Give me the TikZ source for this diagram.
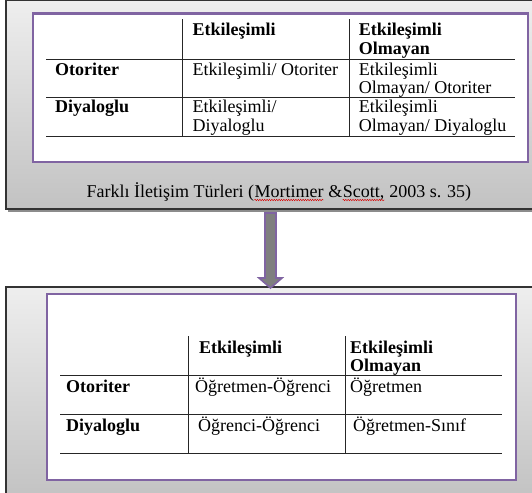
\documentclass[tikz,border=0pt]{standalone}
\usepackage{fontspec}
\setmainfont{Liberation Serif}
\usetikzlibrary{decorations.pathmorphing,calc}
\definecolor{purp}{HTML}{8064A2}
\definecolor{gtop}{HTML}{EEEEEE}
\definecolor{gbot}{HTML}{C2C2C2}
\definecolor{arrowgray}{HTML}{7F7F7F}
\begin{document}
\begin{tikzpicture}[x=1pt,y=-1pt,
  outerbox/.style={draw=black!80, line width=1.3pt, top color=gtop, bottom color=gbot},
  shadowbox/.style={fill=black!45, draw=none},
  innerbox/.style={draw=purp, line width=2.6pt, fill=white},
  tline/.style={draw=black!85, line width=0.9pt},
  cell/.style={anchor=base west, inner sep=0pt, font=\fontsize{18}{19}\selectfont},
  hcell/.style={anchor=base west, inner sep=0pt, font=\fontsize{18}{19}\selectfont\bfseries},
  capt/.style={anchor=base west, inner sep=0pt, font=\fontsize{18}{19}\selectfont},
  squig/.style={draw=red!85!black, line width=0.45pt, decorate,
    decoration={snake, amplitude=0.7pt, segment length=2.4pt}},
  bigarrow/.style={fill=arrowgray, draw=purp, line width=1.6pt, line join=miter}
]
\useasboundingbox (0,0) rectangle (532,492);
\fill[white] (0,0) rectangle (532,492);
\clip (0,0) rectangle (532,492);

% ---------- top panel ----------
\fill[shadowbox] (8,3) rectangle (548,211.5);
\path[outerbox] (6,0.8) rectangle (546,209) node[coordinate] (topbox) {};
\path[innerbox] (33,13.6) rectangle (528,162);

\draw[tline] (46,59.4) -- (515,59.4);
\draw[tline] (46,97.7) -- (515,97.7);
\draw[tline] (46,136.4) -- (515,136.4);
\draw[tline] (182,19.3) -- (182,136.4);
\draw[tline] (349,19.3) -- (349,136.4);

\node[hcell] (t12a) at (192.5,35.6) {Etkileşimli};
\node[hcell] (t13a) at (358.6,35.6) {Etkileşimli};
\node[hcell] (t13b) at (358.6,54.3) {Olmayan};
\node[hcell] (t21) at (55,75.3) {Otoriter};
\node[cell] (t22) at (192.5,75.3) {Etkileşimli/ Otoriter};
\node[cell] (t23a) at (358.6,75.3) {Etkileşimli};
\node[cell] (t23b) at (358.6,93.3) {Olmayan/ Otoriter};
\node[hcell] (t31) at (55,112.7) {Diyaloglu};
\node[cell] (t32a) at (192.5,112.7) {Etkileşimli/};
\node[cell] (t32b) at (192.5,131.2) {Diyaloglu};
\node[cell] (t33a) at (358.6,112.7) {Etkileşimli};
\node[cell] (t33b) at (358.6,131.2) {Olmayan/ Diyaloglu};

\node[capt] (c1) at (86.5,197) {Farklı İletişim Türleri (};
\node[capt] (c2) at (c1.base east) {Mortimer};
\node[capt] (c3) at (c2.base east) {\ \&};
\node[capt] (c4) at (c3.base east) {Scott,};
\node[capt] (c5) at (c4.base east) {\ 2003 s. 35)};
\draw[squig] ([yshift=-3pt]c2.base west) -- ([yshift=-3pt]c2.base east);
\draw[squig] ([yshift=-3pt]c4.base west) -- ([yshift=-3pt]c4.base east);

% ---------- bottom panel ----------
\fill[shadowbox] (8,289) rectangle (548,500);
\path[outerbox] (6,287) rectangle (546,500);
\path[innerbox] (47,294) rectangle (516,480);

\draw[tline] (60,375) -- (502,375);
\draw[tline] (60,414) -- (502,414);
\draw[tline] (60,453) -- (502,453);
\draw[tline] (188,336) -- (188,453);
\draw[tline] (345,336) -- (345,453);

\node[hcell] (b12a) at (199,353) {Etkileşimli};
\node[hcell] (b13a) at (350,353) {Etkileşimli};
\node[hcell] (b13b) at (350,371) {Olmayan};
\node[hcell] (b21) at (66,392.5) {Otoriter};
\node[cell] (b22) at (195,392.5) {Öğretmen-Öğrenci};
\node[cell] (b23) at (350,392.5) {Öğretmen};
\node[hcell] (b31) at (66,431.5) {Diyaloglu};
\node[cell] (b32) at (198,431.5) {Öğrenci-Öğrenci};
\node[cell] (b33) at (353,431.5) {Öğretmen-Sınıf};

% ---------- arrow ----------
\coordinate (as) at (270.5,213);
\coordinate (ae) at (270.5,288);
\draw[bigarrow] ($(as)+(-5.5,0)$) -- ($(as)+(5.5,0)$) -- ($(ae)+(5.5,-10)$)
  -- ($(ae)+(11.5,-10)$) -- (ae) -- ($(ae)+(-11.5,-10)$) -- ($(ae)+(-5.5,-10)$) -- cycle;
\end{tikzpicture}
\end{document}
